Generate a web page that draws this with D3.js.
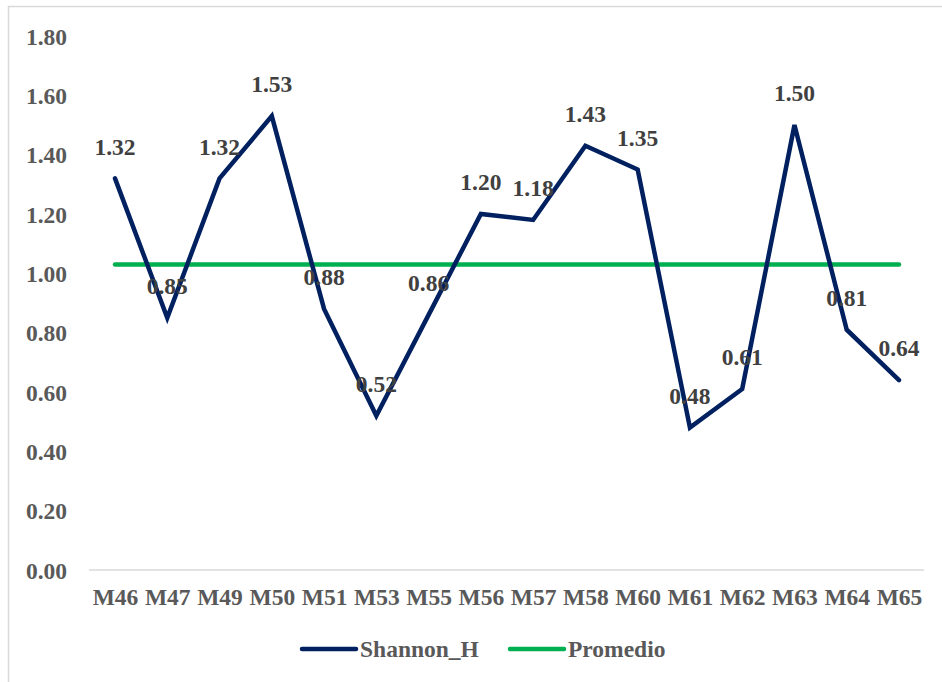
<!DOCTYPE html>
<html><head><meta charset="utf-8">
<script src="https://cdn.jsdelivr.net/npm/d3@7"></script>
<style>body{margin:0;background:#fff}svg{display:block}</style>
</head><body><svg id="c" width="942" height="682"></svg>
<script>
const categories = ["M46","M47","M49","M50","M51","M53","M55","M56","M57","M58","M60","M61","M62","M63","M64","M65"];
const shannonH = [1.32,0.85,1.32,1.53,0.88,0.52,0.86,1.20,1.18,1.43,1.35,0.48,0.61,1.50,0.81,0.64];
const promedio = [1.03,1.03,1.03,1.03,1.03,1.03,1.03,1.03,1.03,1.03,1.03,1.03,1.03,1.03,1.03,1.03];
const yTicks = [0,0.2,0.4,0.6,0.8,1.0,1.2,1.4,1.6,1.8];
const seriesNames = ["Shannon_H","Promedio"];
const colors = ["#002060","#00B050"];

const FONT = '"Liberation Serif"';
const FS = "23.5px";
function styleText(sel, fill){
  sel.style("font-family",FONT).style("font-weight","bold").style("font-size",FS).attr("fill",fill);
}

const svg = d3.select("#c");
// chart border
svg.append("rect").attr("x",8.5).attr("y",6.5).attr("width",960).attr("height",700)
  .attr("fill","none").attr("stroke","#d9d9d9").attr("stroke-width",1.5);

const x = d3.scalePoint().domain(categories).range([115,899]);
const y = d3.scaleLinear().domain([0,1.8]).range([570,36]);

// baseline
svg.append("line").attr("x1",89).attr("x2",924).attr("y1",y(0)).attr("y2",y(0))
  .attr("stroke","#d9d9d9").attr("stroke-width",1.5);

// y axis labels
const yAxis = d3.axisLeft(y).tickValues(yTicks).tickFormat(d3.format(".2f")).tickSize(0).tickPadding(0);
const ga = svg.append("g").attr("transform","translate(67,0)").call(yAxis);
ga.select(".domain").remove();
ga.attr("font-family",null).attr("font-size",null);
styleText(ga.selectAll("text").attr("dy","0.35em"), "#595959");

// x axis labels
const xAxis = d3.axisBottom(x).tickSize(0).tickPadding(0);
const gx = svg.append("g").attr("transform","translate(0,597)").call(xAxis);
gx.select(".domain").remove();
gx.attr("font-family",null).attr("font-size",null);
styleText(gx.selectAll("text").attr("dy","0.35em"), "#595959");

const line = d3.line().x((d,i)=>x(categories[i])).y(d=>y(d));
svg.append("path").datum(promedio).attr("d",line).attr("fill","none")
  .attr("stroke",colors[1]).attr("stroke-width",4.5).attr("stroke-linecap","round");
svg.append("path").datum(shannonH).attr("d",line).attr("fill","none")
  .attr("stroke",colors[0]).attr("stroke-width",4.5).attr("stroke-linecap","round").attr("stroke-linejoin","miter");

// data labels
styleText(svg.append("g").selectAll("text").data(shannonH).join("text")
  .attr("x",(d,i)=>x(categories[i])).attr("y",d=>y(d)-32).attr("dy","0.35em")
  .attr("text-anchor","middle").text(d=>d3.format(".2f")(d)), "#404040");

// legend
const leg = [{x:302},{x:510}];
seriesNames.forEach((n,i)=>{
  const g = svg.append("g").attr("transform",`translate(${leg[i].x},649)`);
  g.append("line").attr("x1",0).attr("x2",54).attr("y1",0).attr("y2",0)
    .attr("stroke",colors[i]).attr("stroke-width",4.5).attr("stroke-linecap","round");
  styleText(g.append("text").attr("x",58).attr("y",0).attr("dy","0.35em").text(n), "#595959");
});
</script></body></html>
